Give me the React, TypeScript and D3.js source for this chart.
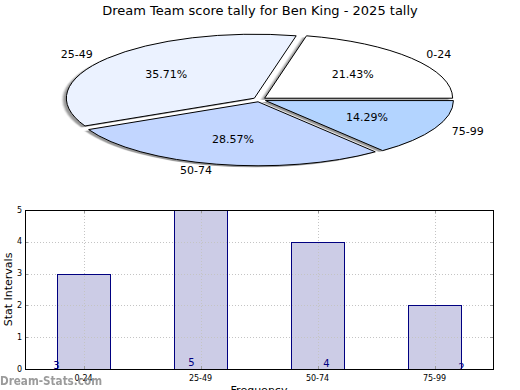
import React, { useEffect, useRef } from 'react';
import * as d3 from 'd3';

const categories = ['0-24', '25-49', '50-74', '75-99'];
const counts = [3, 5, 4, 2];
const sliceColors = ['#ffffff', '#ebf2ff', '#c2d6ff', '#b3d4ff'];
const yTicks = [0, 1, 2, 3, 4, 5];

const W = 520;
const H = 390;
const FONT = 'DejaVu Sans, sans-serif';

const App: React.FC = () => {
  const svgRef = useRef<SVGSVGElement>(null);

  useEffect(() => {
    if (!svgRef.current) return;
    const svg = d3.select(svgRef.current);
    svg.selectAll('*').remove();

    const defs = svg.append('defs');
    defs.append('filter').attr('id', 'shadowBlur')
      .attr('x', '-10%').attr('y', '-10%').attr('width', '120%').attr('height', '120%')
      .append('feGaussianBlur').attr('stdDeviation', 0.8);

    // title
    svg.append('text')
      .attr('x', 260).attr('y', 15)
      .attr('text-anchor', 'middle')
      .attr('font-family', FONT).attr('font-size', 13)
      .text('Dream Team score tally for Ben King - 2025 tally');

    // ---- pie (counter-clockwise from 3 o'clock, squashed) ----
    const cx = 259.5, cy = 99.6, rx = 188, ry = 64, explode = 0.035;
    const total = d3.sum(counts);
    const pie = d3.pie<number>().sort(null)
      .startAngle(Math.PI / 2).endAngle(Math.PI / 2 - 2 * Math.PI);
    const arcs = pie(counts);
    const arc = d3.arc<d3.PieArcDatum<number>>().innerRadius(0).outerRadius(rx);

    const pieG = svg.append('g');
    const mid = (d: d3.PieArcDatum<number>) => (d.startAngle + d.endAngle) / 2;
    const offset = (d: d3.PieArcDatum<number>) => {
      const a = mid(d);
      return [explode * rx * Math.sin(a), -explode * ry * Math.cos(a)];
    };

    // shadows first
    arcs.forEach((d) => {
      const [ox, oy] = offset(d);
      pieG.append('path')
        .attr('d', arc(d) || '')
        .attr('transform', `translate(${cx + ox - 3.5},${cy + oy + 1.5}) scale(1,${ry / rx})`)
        .attr('fill', '#444')
        .attr('opacity', 0.55)
        .attr('filter', 'url(#shadowBlur)');
    });

    arcs.forEach((d, i) => {
      const [ox, oy] = offset(d);
      pieG.append('path')
        .attr('d', arc(d) || '')
        .attr('transform', `translate(${cx + ox},${cy + oy}) scale(1,${ry / rx})`)
        .attr('fill', sliceColors[i])
        .attr('stroke', '#000')
        .attr('stroke-width', 1)
        .attr('vector-effect', 'non-scaling-stroke');

      const a = mid(d);
      const lx = cx + ox + 1.1 * rx * Math.sin(a);
      const ly = cy + oy - 1.1 * ry * Math.cos(a);
      pieG.append('text')
        .attr('x', lx).attr('y', ly)
        .attr('text-anchor', Math.sin(a) > 0 ? 'start' : 'end')
        .attr('dominant-baseline', 'central')
        .attr('font-family', FONT).attr('font-size', 11)
        .text(categories[i]);

      const px = cx + ox + 0.6 * rx * Math.sin(a);
      const py = cy + oy - 0.6 * ry * Math.cos(a);
      pieG.append('text')
        .attr('x', px).attr('y', py)
        .attr('text-anchor', 'middle')
        .attr('dominant-baseline', 'central')
        .attr('font-family', FONT).attr('font-size', 11)
        .text(`${((d.data / total) * 100).toFixed(2)}%`);
    });

    // ---- bar chart ----
    const left = 25, right = 493, top = 210, bottom = 369;
    const x = d3.scaleLinear().domain([-0.5, categories.length - 0.5]).range([left, right]);
    const y = d3.scaleLinear().domain([0, 5]).range([bottom, top]);
    const barW = 0.45;
    const px = (v: number) => Math.round(v) + 0.5;

    defs.append('clipPath').attr('id', 'plotClip')
      .append('rect').attr('x', left).attr('y', top)
      .attr('width', right - left).attr('height', bottom - top);

    const g = svg.append('g');

    const barX = (i: number) => px(x(i - barW / 2));
    const barX2 = (i: number) => px(x(i + barW / 2));

    g.selectAll('rect.bar').data(counts).enter().append('rect')
      .attr('class', 'bar')
      .attr('x', (_, i) => barX(i))
      .attr('y', (v) => px(y(v)))
      .attr('width', (_, i) => barX2(i) - barX(i))
      .attr('height', (v) => px(y(0)) - px(y(v)))
      .attr('fill', '#cccce6');

    // grid (drawn over the bar fills)
    const grid = g.append('g').attr('stroke', '#c4c4c4').attr('stroke-dasharray', '1,2').attr('stroke-width', 1);
    categories.forEach((_, i) => {
      grid.append('line')
        .attr('x1', px(x(i))).attr('x2', px(x(i)))
        .attr('y1', top).attr('y2', bottom);
    });
    yTicks.slice(1, -1).forEach((t) => {
      grid.append('line')
        .attr('x1', left).attr('x2', right)
        .attr('y1', px(y(t))).attr('y2', px(y(t)));
    });

    // bar outlines on top of the grid
    g.selectAll('rect.barEdge').data(counts).enter().append('rect')
      .attr('class', 'barEdge')
      .attr('x', (_, i) => barX(i))
      .attr('y', (v) => px(y(v)))
      .attr('width', (_, i) => barX2(i) - barX(i))
      .attr('height', (v) => px(y(0)) - px(y(v)))
      .attr('fill', 'none')
      .attr('stroke', '#000080')
      .attr('stroke-width', 1);

    // value labels (clipped to the axes)
    g.append('g').attr('clip-path', 'url(#plotClip)')
      .selectAll('text').data(counts).enter().append('text')
      .attr('x', (_, i) => x(i + (i - 1.5) * 0.154))
      .attr('y', (v) => y((v - 3) * 0.05))
      .attr('text-anchor', 'middle')
      .attr('fill', '#000080')
      .attr('font-family', FONT).attr('font-size', 10)
      .text((v) => String(v));

    // tick marks
    const ticks = g.append('g').attr('stroke', '#999').attr('stroke-width', 1);
    yTicks.forEach((t) => {
      const yy = px(y(t));
      ticks.append('line').attr('x1', left).attr('x2', left + 3).attr('y1', yy).attr('y2', yy);
      ticks.append('line').attr('x1', right - 3).attr('x2', right).attr('y1', yy).attr('y2', yy);
    });
    categories.forEach((_, i) => {
      const xx = px(x(i));
      ticks.append('line').attr('x1', xx).attr('x2', xx).attr('y1', bottom).attr('y2', bottom - 3);
      ticks.append('line').attr('x1', xx).attr('x2', xx).attr('y1', top).attr('y2', top + 3);
    });

    // frame
    g.append('rect')
      .attr('x', left + 0.5).attr('y', top + 0.5)
      .attr('width', right - left).attr('height', bottom - top)
      .attr('fill', 'none').attr('stroke', '#000').attr('stroke-width', 1);

    // tick labels
    g.selectAll('text.ylab').data(yTicks).enter().append('text')
      .attr('class', 'ylab')
      .attr('x', left - 3).attr('y', (t) => y(t))
      .attr('text-anchor', 'end').attr('dominant-baseline', 'central')
      .attr('font-family', FONT).attr('font-size', 8)
      .text((t) => String(t));

    // watermark
    svg.append('text')
      .attr('x', 0).attr('y', 384.5)
      .attr('font-family', FONT).attr('font-size', 12).attr('font-weight', 'bold')
      .attr('fill', '#8a8a8a').attr('opacity', 0.85)
      .attr('textLength', 102).attr('lengthAdjust', 'spacingAndGlyphs')
      .text('Dream-Stats.com');

    g.selectAll('text.xlab').data(categories).enter().append('text')
      .attr('class', 'xlab')
      .attr('x', (_, i) => x(i)).attr('y', bottom + 9)
      .attr('text-anchor', 'middle').attr('dominant-baseline', 'central')
      .attr('font-family', FONT).attr('font-size', 8)
      .text((c) => c);

    svg.append('text')
      .attr('transform', `translate(12,${(top + bottom) / 2}) rotate(-90)`)
      .attr('text-anchor', 'middle')
      .attr('font-family', FONT).attr('font-size', 11)
      .text('Stat Intervals');

    svg.append('text')
      .attr('x', (left + right) / 2).attr('y', 394)
      .attr('text-anchor', 'middle')
      .attr('font-family', FONT).attr('font-size', 11)
      .text('Frequency');
  }, []);

  return (
    <svg
      ref={svgRef}
      width={W}
      height={H}
      style={{ position: 'absolute', left: 0, top: 0, background: '#fff' }}
    />
  );
};

export default App;
